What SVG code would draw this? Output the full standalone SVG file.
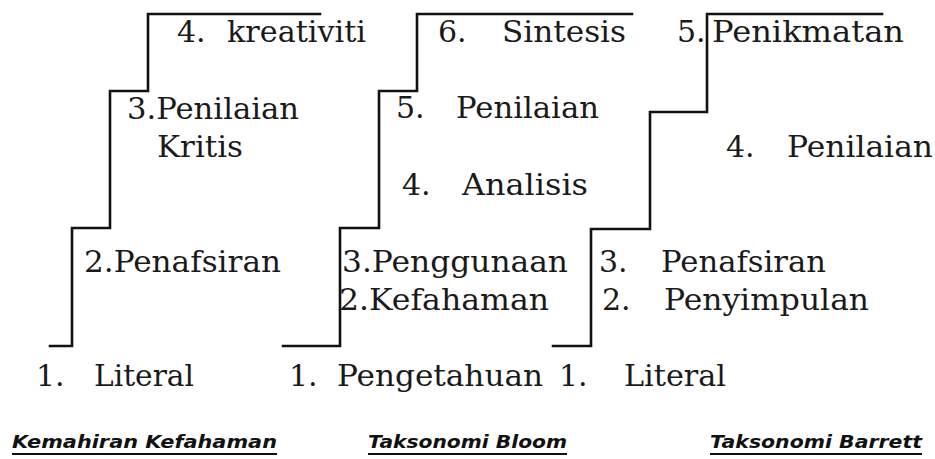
<svg xmlns="http://www.w3.org/2000/svg" width="935" height="459" viewBox="0 0 935 459">
<style>
.stair{fill:none;stroke:#111;stroke-width:2.6;stroke-linejoin:miter;stroke-linecap:square}
.t{font-family:"DejaVu Serif","Liberation Serif",serif;font-size:30px;fill:#1a1a1a}
.title{font-family:"DejaVu Sans","Liberation Sans",sans-serif;font-size:18px;font-weight:bold;font-style:italic;fill:#111}
.ul{stroke:#111;stroke-width:2}
</style>
<rect width="935" height="459" fill="#fff"/>
<g id="stairs">
<path class="stair" d="M50,346 H72 V228 H110 V91 H148 V14 H320"/>
<path class="stair" d="M283,346 H340 V228 H379 V91 H417 V14 H632"/>
<path class="stair" d="M553,346 H591 V229 H650 V112 H707 V14 H882"/>
</g>
<g id="kemahiran">
<text class="t" x="177" y="42">4.</text><text class="t" x="227" y="42" textLength="139" lengthAdjust="spacingAndGlyphs">kreativiti</text>
<text class="t" x="127" y="119" textLength="172" lengthAdjust="spacingAndGlyphs">3.Penilaian</text>
<text class="t" x="157" y="157" textLength="86" lengthAdjust="spacingAndGlyphs">Kritis</text>
<text class="t" x="84" y="272" textLength="197" lengthAdjust="spacingAndGlyphs">2.Penafsiran</text>
<text class="t" x="36" y="386">1.</text><text class="t" x="94" y="386" textLength="100" lengthAdjust="spacingAndGlyphs">Literal</text>
<text class="title" x="12" y="448" textLength="265" lengthAdjust="spacingAndGlyphs">Kemahiran Kefahaman</text>
<line class="ul" x1="12" y1="454" x2="277" y2="454"/>
</g>
<g id="bloom">
<text class="t" x="438" y="42">6.</text><text class="t" x="502" y="42" textLength="124" lengthAdjust="spacingAndGlyphs">Sintesis</text>
<text class="t" x="396" y="118">5.</text><text class="t" x="456" y="118" textLength="143" lengthAdjust="spacingAndGlyphs">Penilaian</text>
<text class="t" x="402" y="195">4.</text><text class="t" x="462" y="195" textLength="126" lengthAdjust="spacingAndGlyphs">Analisis</text>
<text class="t" x="342" y="272" textLength="226" lengthAdjust="spacingAndGlyphs">3.Penggunaan</text>
<text class="t" x="339" y="310" textLength="210" lengthAdjust="spacingAndGlyphs">2.Kefahaman</text>
<text class="t" x="289" y="386">1.</text><text class="t" x="337" y="386" textLength="206" lengthAdjust="spacingAndGlyphs">Pengetahuan</text>
<text class="title" x="368" y="448" textLength="199" lengthAdjust="spacingAndGlyphs">Taksonomi Bloom</text>
<line class="ul" x1="368" y1="454" x2="567" y2="454"/>
</g>
<g id="barrett">
<text class="t" x="677" y="42">5.</text><text class="t" x="712" y="42" textLength="192" lengthAdjust="spacingAndGlyphs">Penikmatan</text>
<text class="t" x="726" y="157">4.</text><text class="t" x="787" y="157" textLength="146" lengthAdjust="spacingAndGlyphs">Penilaian</text>
<text class="t" x="599" y="272">3.</text><text class="t" x="661" y="272" textLength="165" lengthAdjust="spacingAndGlyphs">Penafsiran</text>
<text class="t" x="602" y="310">2.</text><text class="t" x="664" y="310" textLength="205" lengthAdjust="spacingAndGlyphs">Penyimpulan</text>
<text class="t" x="559" y="386">1.</text><text class="t" x="624" y="386" textLength="102" lengthAdjust="spacingAndGlyphs">Literal</text>
<text class="title" x="710" y="448" textLength="212" lengthAdjust="spacingAndGlyphs">Taksonomi Barrett</text>
<line class="ul" x1="710" y1="454" x2="922" y2="454"/>
</g>
</svg>
